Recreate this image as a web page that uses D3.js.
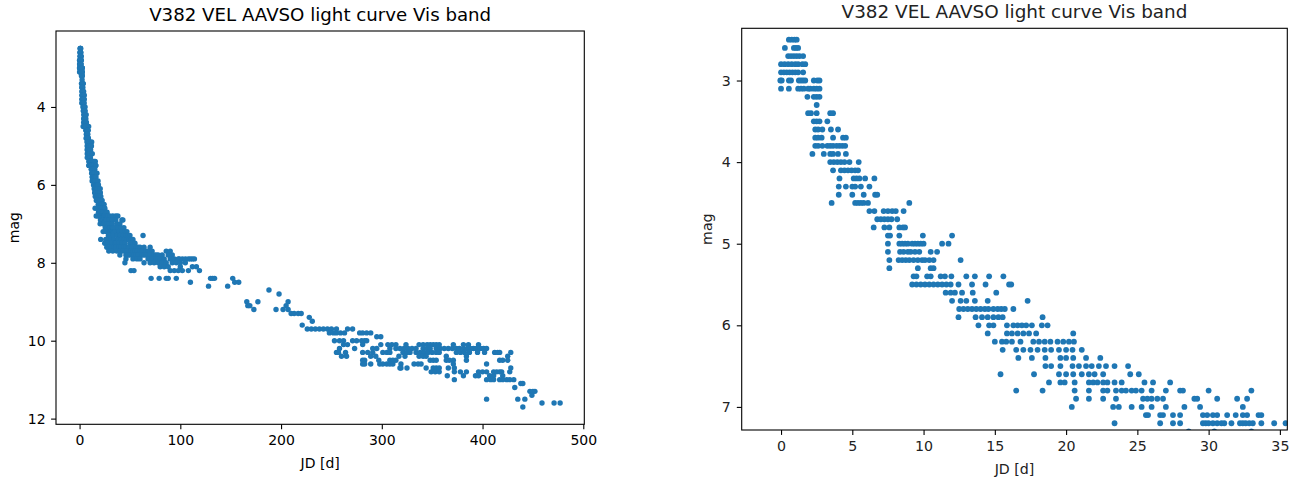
<!DOCTYPE html>
<html>
<head>
<meta charset="utf-8">
<script src="https://cdn.jsdelivr.net/npm/d3@7"></script>
<style>
  body { margin: 0; background: #fff; }
  svg { display: block; font-family: "DejaVu Sans", sans-serif; }
</style>
</head>
<body>
<script>
// V382 Vel, AAVSO visual estimates. Each row: [mag, list of JD offsets in days]
// first 35 days
const earlyRows = [
  [2.5, [0.55, 0.75, 0.95, 1.1]],
  [2.6, [0.27, 0.9, 1.05, 1.2]],
  [2.7, [0.5, 0.7, 0.9, 1.1, 1.3, 1.55]],
  [2.8, [0.0, 0.25, 0.5, 0.75, 1.0, 1.2, 1.5, 1.7]],
  [2.9, [0.0, 0.2, 0.4, 0.6, 0.8, 1.0, 1.2, 1.55]],
  [3.0, [-0.05, 0.05, 0.55, 0.7, 1.25, 1.4, 1.55, 1.7, 2.3, 2.55, 2.7]],
  [3.1, [0.0, 0.55, 1.2, 1.4, 1.6, 1.9, 2.05, 2.3, 2.5, 2.7]],
  [3.2, [1.85, 2.3, 2.5, 2.7]],
  [3.3, [2.5]],
  [3.4, [1.9, 2.1, 2.5, 3.45, 3.65]],
  [3.5, [2.3, 2.5, 2.7, 3.25]],
  [3.6, [2.4, 2.6, 2.9, 3.5, 4.0]],
  [3.7, [2.4, 2.6, 2.85, 3.65, 4.35, 4.55]],
  [3.8, [2.4, 2.6, 2.9, 3.25, 3.45, 3.65, 3.9, 4.1, 4.3, 4.5]],
  [3.9, [2.2, 3.0, 3.45, 3.65, 4.0, 4.55]],
  [4.0, [3.45, 3.7, 3.95, 4.2, 4.45, 4.8, 5.45]],
  [4.1, [3.65, 4.2, 4.45, 4.7, 4.95, 5.2, 5.4]],
  [4.2, [4.1, 5.1, 5.3, 5.5, 5.9, 6.55]],
  [4.3, [4.05, 4.55, 5.0, 5.2, 5.6, 6.2]],
  [4.4, [4.05, 5.0, 5.8, 6.6, 6.75]],
  [4.5, [3.55, 5.2, 5.4, 5.6, 5.8, 6.1, 9.0]],
  [4.6, [6.2, 6.55, 7.2, 7.5, 7.8, 8.05, 8.6]],
  [4.7, [6.75, 7.0, 7.25, 7.5, 7.75, 8.15]],
  [4.8, [6.5, 7.25, 7.6, 8.3, 8.55, 8.7]],
  [4.9, [7.5, 7.65, 8.3, 9.95, 12.0]],
  [5.0, [7.5, 8.3, 8.5, 8.7, 8.9, 9.2, 9.4, 9.6, 9.8, 10.0, 11.3, 11.75]],
  [5.1, [7.5, 8.35, 8.6, 8.9, 9.1, 9.4, 9.7, 10.5, 10.95]],
  [5.2, [7.6, 8.25, 8.5, 8.75, 9.0, 9.3, 9.6, 9.9, 10.1, 10.4, 10.7, 12.6]],
  [5.3, [7.6, 9.6, 10.5, 10.7]],
  [5.4, [9.3, 9.5, 10.25, 10.5, 11.2, 11.5, 11.95, 13.0, 13.6, 14.6, 15.6]],
  [5.5, [9.2, 9.5, 9.8, 10.1, 10.4, 10.7, 11.0, 11.3, 11.6, 11.9, 12.45, 13.4, 14.35, 16.0, 16.15]],
  [5.6, [11.55, 11.9, 12.2, 12.7, 13.45, 15.1]],
  [5.7, [12.0, 12.6, 13.0, 13.6, 14.5, 17.3]],
  [5.8, [12.5, 12.8, 13.1, 13.4, 13.7, 14.0, 14.3, 14.55, 14.9, 15.2, 15.45, 15.7, 16.3]],
  [5.9, [12.45, 13.65, 14.1, 14.5, 14.9, 15.25, 15.55, 18.35]],
  [6.0, [13.85, 14.6, 14.9, 15.85, 16.3, 16.6, 16.9, 17.2, 17.6, 18.3, 18.7]],
  [6.1, [14.5, 15.85, 16.2, 16.6, 17.0, 17.4, 17.9, 20.5]],
  [6.2, [15.0, 15.5, 15.8, 16.2, 16.8, 17.7, 18.1, 18.5, 18.9, 19.4, 19.8, 20.2, 20.55]],
  [6.3, [15.55, 16.5, 17.0, 17.5, 18.0, 18.5, 18.95, 19.5, 20.0, 20.45, 21.1]],
  [6.4, [16.65, 17.6, 18.55, 19.6, 20.0, 20.5, 21.4, 22.4]],
  [6.5, [18.55, 18.95, 19.6, 20.45, 20.9, 21.4, 21.8, 22.3, 22.8, 23.4, 24.35]],
  [6.6, [15.4, 17.75, 19.5, 20.0, 20.5, 21.1, 21.6, 22.0, 22.6, 24.5, 25.1]],
  [6.7, [18.8, 19.6, 19.9, 20.6, 21.6, 21.9, 22.2, 22.6, 22.9, 23.4, 23.9, 25.5, 26.1, 27.3]],
  [6.8, [16.5, 18.35, 20.6, 21.6, 22.6, 22.9, 23.5, 23.9, 24.2, 24.6, 24.9, 25.3, 26.0, 27.0, 28.0, 28.2, 30.0, 33.0]],
  [6.9, [20.7, 21.6, 22.6, 23.5, 25.4, 25.7, 26.0, 26.4, 26.8, 29.0, 29.2, 30.6, 32.0, 32.7]],
  [7.0, [20.4, 23.3, 23.7, 24.6, 25.3, 26.0, 27.0, 28.3, 29.4, 32.4]],
  [7.1, [25.6, 25.75, 26.6, 26.8, 27.5, 28.0, 29.6, 29.9, 30.3, 30.6, 31.3, 31.9, 32.4, 32.7, 33.5, 33.7]],
  [7.2, [23.4, 26.6, 27.5, 28.0, 29.6, 29.8, 30.0, 30.3, 30.6, 30.9, 31.1, 31.6, 32.2, 32.4, 32.6, 32.85, 33.1, 33.7, 34.6, 35.4]],
  [7.3, [28.6, 30.4, 33.0]],
  [7.4, [21, 26, 29, 31, 34]],
  [7.5, [25, 28, 32, 35]],
  [7.6, [27, 31, 34]],
  [7.7, [29, 33]]
]

// rest of the curve
const lateRows = [
  [6.8, [36, 38]],
  [6.9, [36, 42, 43]],
  [7.0, [37, 40]],
  [7.1, [38, 41, 44]],
  [7.2, [39, 42, 45, 47]],
  [7.3, [37, 40, 43, 46, 48, 50, 63]],
  [7.4, [38, 41, 44, 47, 49, 51, 53]],
  [7.5, [36, 39, 42, 45, 50, 52, 55]],
  [7.6, [36, 39, 41, 44, 46, 48, 49, 52, 56, 58, 60, 64, 70]],
  [7.7, [37, 40, 43, 47, 51, 53, 55, 57, 60, 62, 66, 68, 72, 86, 90]],
  [7.8, [40, 46, 48, 50, 54, 56, 58, 62, 64, 66, 70, 74, 76, 78, 82, 88, 92]],
  [7.9, [46, 53, 57, 60, 68, 72, 76, 80, 84, 90, 94, 98, 99, 102, 105, 108, 110, 112, 114]],
  [8.0, [45, 64, 70, 74, 78, 82, 86, 92, 96, 100, 105]],
  [8.1, [80, 84, 88, 100, 112, 116]],
  [8.2, [51, 54, 90, 94, 98, 102, 108, 119]],
  [8.4, [71, 79, 86, 88, 96, 130, 132, 134, 152]],
  [8.5, [110, 154, 158]],
  [8.6, [128, 147]],
  [8.7, [188]],
  [8.8, [198]],
  [9.0, [166, 177, 207]],
  [9.1, [167, 169, 205]],
  [9.2, [173, 195, 202, 207]],
  [9.3, [210, 213, 217, 220]],
  [9.4, [228]],
  [9.5, [231]],
  [9.6, [221]],
  [9.7, [226, 230, 234, 238, 242, 246, 250, 255, 266, 271]],
  [9.8, [248, 252, 255, 259, 263, 278, 281, 285, 289]],
  [9.9, [295, 299]],
  [10.0, [253, 258, 262, 271, 275, 280, 283, 285]],
  [10.1, [262, 266, 281, 299, 306, 310, 314, 324, 337, 341, 345, 348, 351, 354, 357, 371, 381, 386, 396]],
  [10.2, [258, 273, 291, 295, 308, 314, 318, 322, 326, 330, 334, 341, 345, 348, 354, 358, 362, 366, 370, 374, 377, 381, 385, 388, 391, 394, 398, 401, 404]],
  [10.3, [255, 257, 264, 281, 286, 291, 301, 305, 308, 321, 325, 328, 334, 338, 342, 346, 350, 354, 357, 374, 378, 382, 387, 395, 402, 412, 415, 417, 428]],
  [10.4, [260, 265, 289, 294, 317, 323, 337, 341, 344, 364, 384, 425]],
  [10.5, [281, 283, 297, 308, 311, 314, 348, 351, 354, 364, 367, 371, 384, 417, 420, 425]],
  [10.6, [281, 283, 289, 298, 301, 305, 308, 311, 319, 332, 336, 339, 371, 404]],
  [10.7, [318, 319, 325, 344, 351, 354, 357, 366, 372, 428]],
  [10.8, [349, 353, 357, 372, 378, 384, 396, 400, 404, 411, 414, 417, 419, 427]],
  [10.9, [365, 381, 393, 396, 407, 411, 420]],
  [11.0, [372, 404, 408, 411, 417, 420, 424, 427, 431]],
  [11.1, [438, 440]],
  [11.2, [432]],
  [11.3, [447, 450, 452]],
  [11.4, [449]],
  [11.5, [404, 435, 442]],
  [11.6, [459, 471, 477]],
  [11.7, [440]]
]

const title = "V382 VEL AAVSO light curve Vis band"
const leftXTicks = [0, 100, 200, 300, 400, 500]
const leftYTicks = [4, 6, 8, 10, 12]
const rightXTicks = [0, 5, 10, 15, 20, 25, 30, 35]
const rightYTicks = [3, 4, 5, 6, 7]

const color = "#1f77b4"

function flatten(rows) {
  let out = []
  rows.forEach(r => r[1].forEach(jd => out.push({ jd: jd, mag: r[0] })))
  return out
}

const points = flatten(earlyRows).concat(flatten(lateRows))

const svg = d3.select("body").append("svg")
  .attr("width", 1305)
  .attr("height", 487)

function drawPanel(opt) {
  let x = d3.scaleLinear().domain(opt.xDomain).range([opt.left, opt.right])
  let y = d3.scaleLinear().domain(opt.yDomain).range([opt.top, opt.bottom])

  let g = svg.append("g")

  g.append("clipPath").attr("id", opt.id)
    .append("rect")
    .attr("x", opt.left).attr("y", opt.top)
    .attr("width", opt.right - opt.left).attr("height", opt.bottom - opt.top)

  g.append("g")
      .attr("clip-path", `url(#${opt.id})`)
      .attr("fill", color)
    .selectAll("circle")
    .data(points)
    .join("circle")
      .attr("cx", d => x(d.jd))
      .attr("cy", d => y(d.mag))
      .attr("r", opt.r)

  let fmt = d3.format("d")
  let xAxis = g.append("g")
    .attr("transform", `translate(0,${opt.bottom})`)
    .call(d3.axisBottom(x).tickValues(opt.xTicks).tickFormat(fmt).tickSize(4.9).tickPadding(opt.pad).tickSizeOuter(0))
  let yAxis = g.append("g")
    .attr("transform", `translate(${opt.left},0)`)
    .call(d3.axisLeft(y).tickValues(opt.yTicks).tickFormat(fmt).tickSize(4.9).tickPadding(opt.pad).tickSizeOuter(0))

  ;[xAxis, yAxis].forEach(a => {
    a.select(".domain").remove()
    a.attr("font-family", null).attr("font-size", opt.fs)
    a.selectAll("line").attr("stroke", "#000").attr("stroke-width", 1.1)
    a.selectAll("text").attr("fill", opt.textColor)
  })

  g.append("rect")
    .attr("x", opt.left).attr("y", opt.top)
    .attr("width", opt.right - opt.left).attr("height", opt.bottom - opt.top)
    .attr("fill", "none")
    .attr("stroke", "#000")
    .attr("stroke-width", 1.1)

  let cx = (opt.left + opt.right) / 2
  g.append("text")
    .attr("x", cx).attr("y", opt.titleY)
    .attr("text-anchor", "middle")
    .attr("font-size", opt.titleFs)
    .attr("fill", opt.textColor)
    .text(title)

  g.append("text")
    .attr("x", cx).attr("y", opt.xLabelY)
    .attr("text-anchor", "middle")
    .attr("font-size", opt.fs)
    .attr("fill", opt.textColor)
    .text("JD [d]")

  g.append("text")
    .attr("transform", `translate(${opt.yLabelX},${(opt.top + opt.bottom) / 2}) rotate(-90)`)
    .attr("text-anchor", "middle")
    .attr("font-size", opt.fs)
    .attr("fill", opt.textColor)
    .text("mag")
}

drawPanel({
  id: "clipL", left: 56, right: 584.3, top: 31, bottom: 424.3,
  xDomain: [-23.4, 501], yDomain: [2.05, 12.146],
  xTicks: leftXTicks, yTicks: leftYTicks,
  r: 2.7, fs: 14, titleFs: 18.2, pad: 5.5, textColor: "#000",
  titleY: 21, xLabelY: 468, yLabelX: 19
})

drawPanel({
  id: "clipR", left: 741.7, right: 1287.3, top: 28.3, bottom: 430,
  xDomain: [-2.76, 35.52], yDomain: [2.36, 7.283],
  xTicks: rightXTicks, yTicks: rightYTicks,
  r: 2.9, fs: 14.2, titleFs: 18.4, pad: 6, textColor: "#222",
  titleY: 18, xLabelY: 474, yLabelX: 712
})
</script>
</body>
</html>
